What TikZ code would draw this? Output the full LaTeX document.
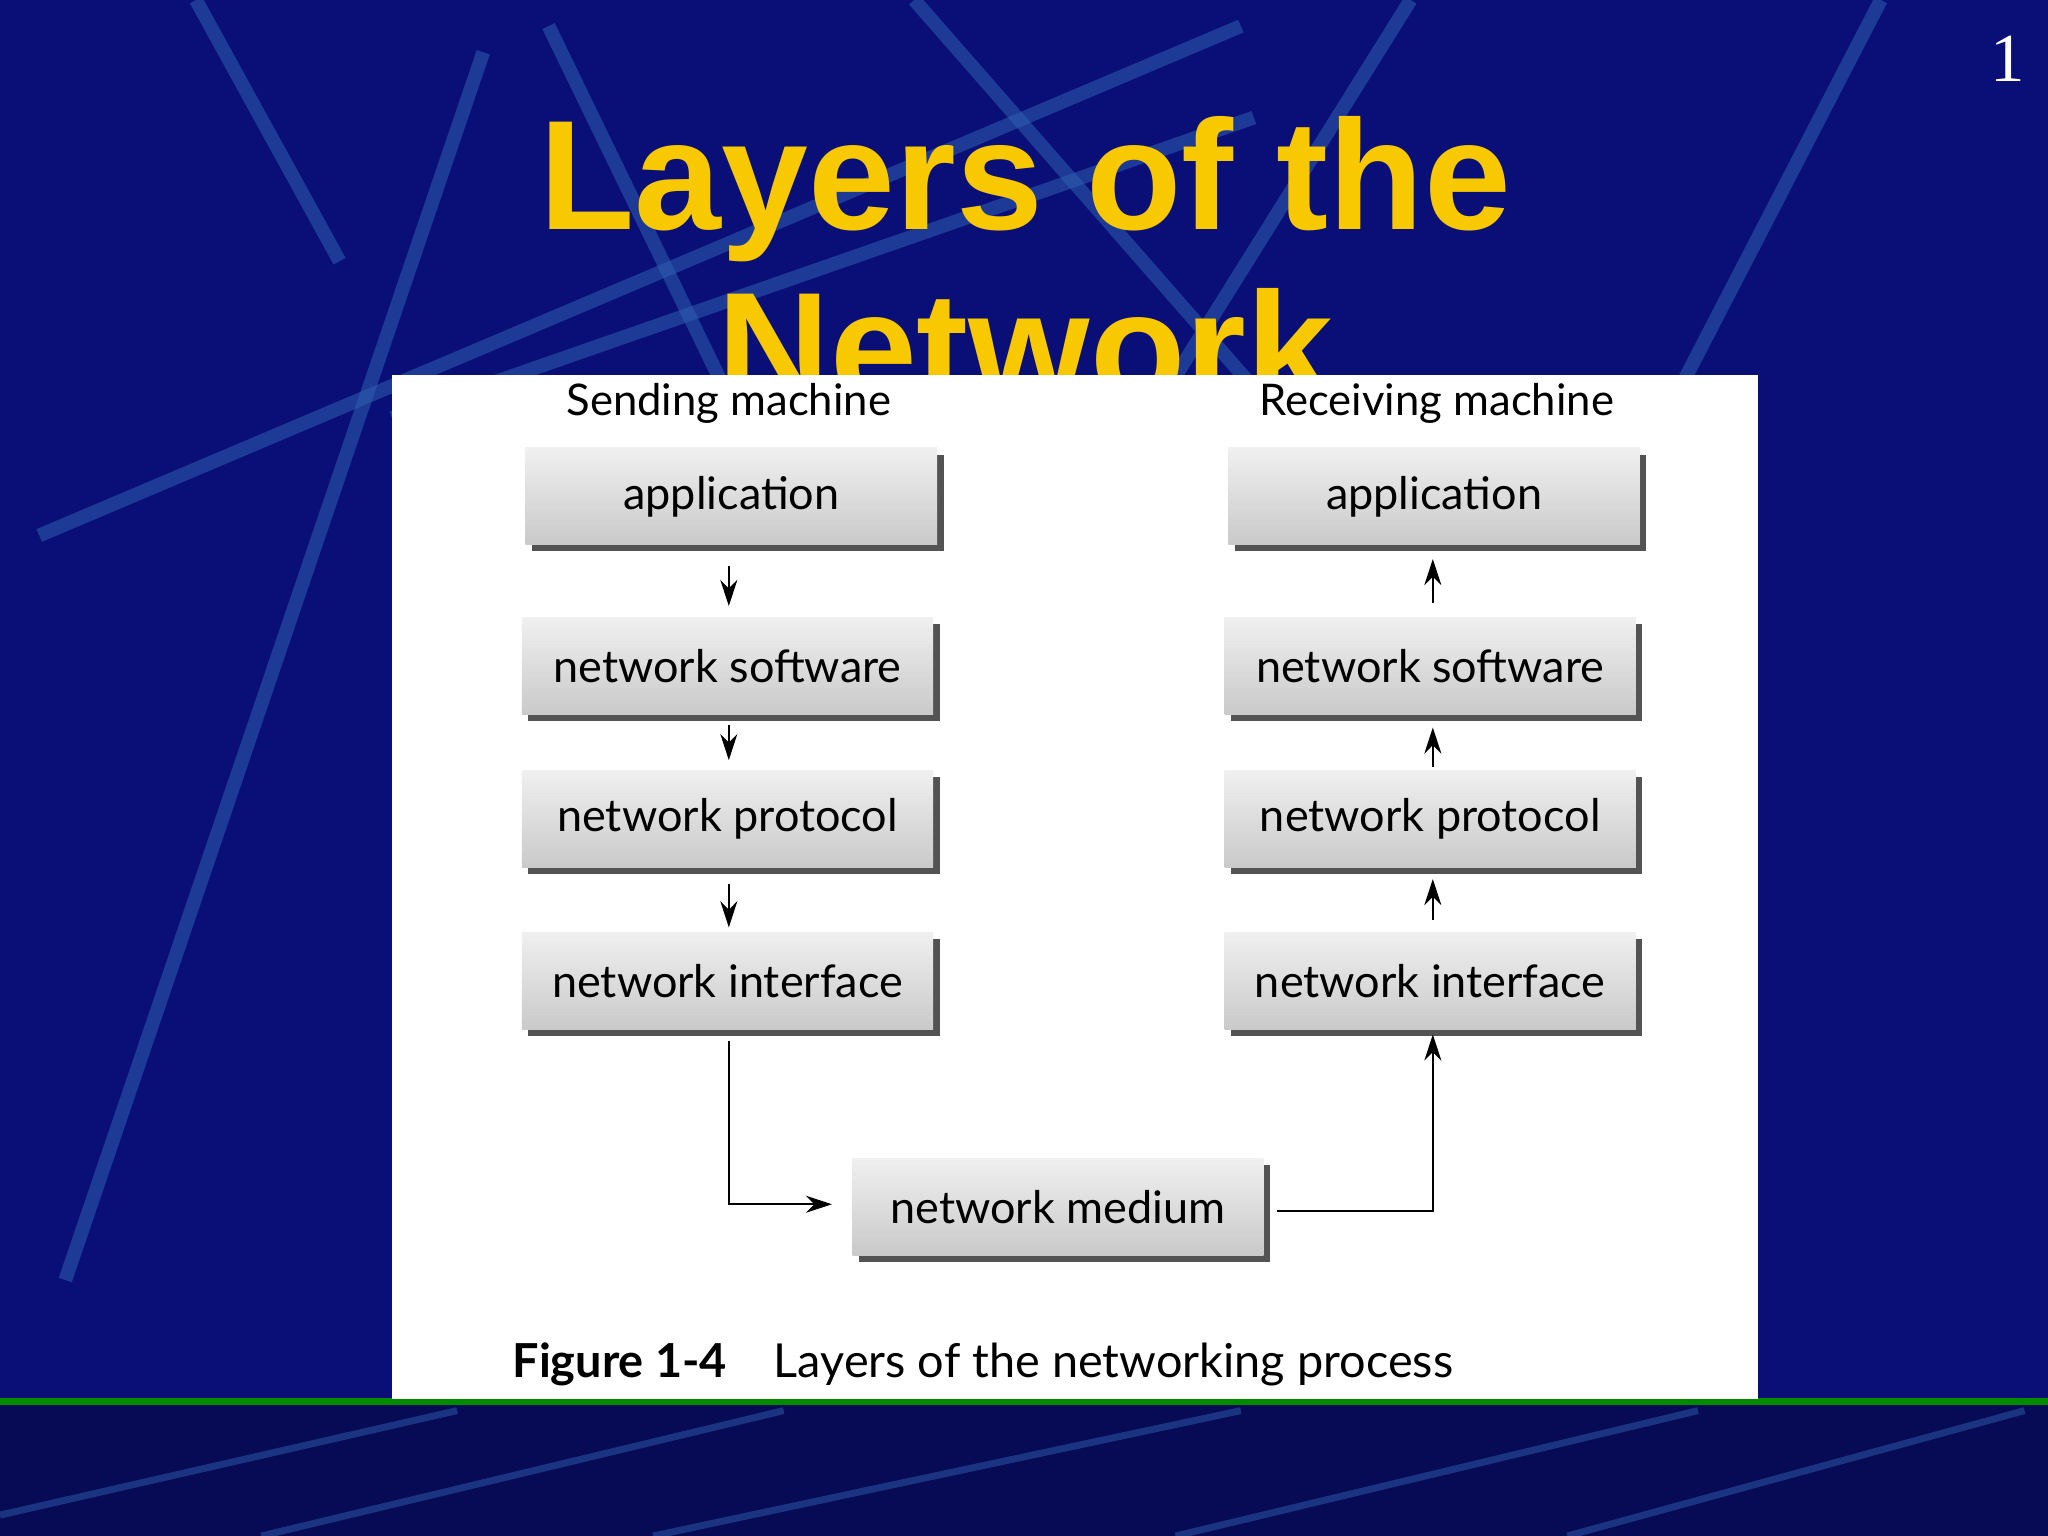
\documentclass[tikz,border=0pt]{standalone}
\usepackage{fontspec}
\setmainfont{Liberation Sans}
\newfontfamily\fig{Lato}
\newfontfamily\ser{Liberation Serif}
\usetikzlibrary{arrows.meta}
\definecolor{bg}{HTML}{0A0F78}
\definecolor{ln}{HTML}{2E5FB0}
\definecolor{gold}{HTML}{F8C800}
\begin{document}
\begin{tikzpicture}[x=1cm,y=-1cm,
  box/.style={draw=none,top color=gray!12,bottom color=gray!42,minimum width=3.15cm,minimum height=0.74cm,font=\fig\fontsize{9.8}{12}\selectfont,text=black,
    preaction={fill=gray!65!black,transform canvas={xshift=0.5mm,yshift=-0.5mm}}},
  arr/.style={-{Stealth[length=2mm,width=1.3mm]},line width=0.5pt}]
\useasboundingbox (0,0) rectangle (15.68,11.76);
\fill[bg] (0,0) rectangle (15.68,11.76);
\begin{scope}[line width=3pt,ln,opacity=0.55]
\draw (0.5,9.8) -- (3.7,0.4);
\draw (0.3,4.1) -- (9.5,0.2);
\draw (1.5,0) -- (2.6,2.0);
\draw (4.2,0.2) -- (7.5,7);
\draw (7.0,0) -- (10.5,4);
\draw (10.8,0) -- (8.8,3.2);
\draw (14.4,0) -- (12.9,2.9);
\draw (3.0,3.2) -- (9.6,0.9);
\end{scope}
\fill[bg!70!black] (0,10.74) rectangle (15.68,11.76);
\draw[green!55!black,line width=1.5pt] (0,10.73) -- (15.68,10.73);
\begin{scope}[line width=1.5pt,ln,opacity=0.5]
\draw (0,11.6) -- (3.5,10.8); \draw (2,11.76) -- (6,10.8);
\draw (5,11.76) -- (9.5,10.8); \draw (9,11.76) -- (13,10.8); \draw (12,11.76) -- (15.5,10.8);
\end{scope}
\node[text=gold,font=\bfseries\fontsize{34}{40}\selectfont] (t1) at (7.85,1.45) {Layers of the};
\node[text=gold,font=\bfseries\fontsize{34}{40}\selectfont] (t2) at (7.85,2.65) {Network};
\node[text=white,font=\ser\fontsize{15}{18}\selectfont] (num) at (15.37,0.45) {1};
\fill[white] (3.0,2.87) rectangle (13.46,10.71);
\begin{scope}[every node/.style={font=\fig\fontsize{9.5}{12}\selectfont}]
\node (sm) at (5.58,3.09) {Sending machine};
\node (rm) at (11.0,3.09) {Receiving machine};
\end{scope}
\node[box] (la) at (5.6,3.8) {application};
\node[box] (ls) at (5.57,5.1) {network software};
\node[box] (lp) at (5.57,6.27) {network protocol};
\node[box] (li) at (5.57,7.51) {network interface};
\node[box] (ra) at (10.98,3.8) {application};
\node[box] (rs) at (10.95,5.1) {network software};
\node[box] (rp) at (10.95,6.27) {network protocol};
\node[box] (ri) at (10.95,7.51) {network interface};
\node[box] (nm) at (8.1,9.24) {network medium};
\draw[arr] (5.58,4.33) -- (5.58,4.64);
\draw[arr] (5.58,5.55) -- (5.58,5.82);
\draw[arr] (5.58,6.77) -- (5.58,7.10);
\draw[arr] (10.97,4.62) -- (10.97,4.28);
\draw[arr] (10.97,5.87) -- (10.97,5.57);
\draw[arr] (10.97,7.04) -- (10.97,6.73);
\coordinate (c1) at (5.58,9.22);
\coordinate (c2) at (10.97,9.27);
\draw[arr] (li.south -| c1) ++(0,0.08) -- (c1) -- (6.37,9.22);
\draw[arr] (9.78,9.27) -- (c2) -- (10.97,7.92);
\node[anchor=west,font=\fig\fontsize{10.2}{13}\selectfont] (cap) at (3.8,10.45) {\textbf{Figure 1-4}\quad Layers of the networking process};
\end{tikzpicture}
\end{document}
